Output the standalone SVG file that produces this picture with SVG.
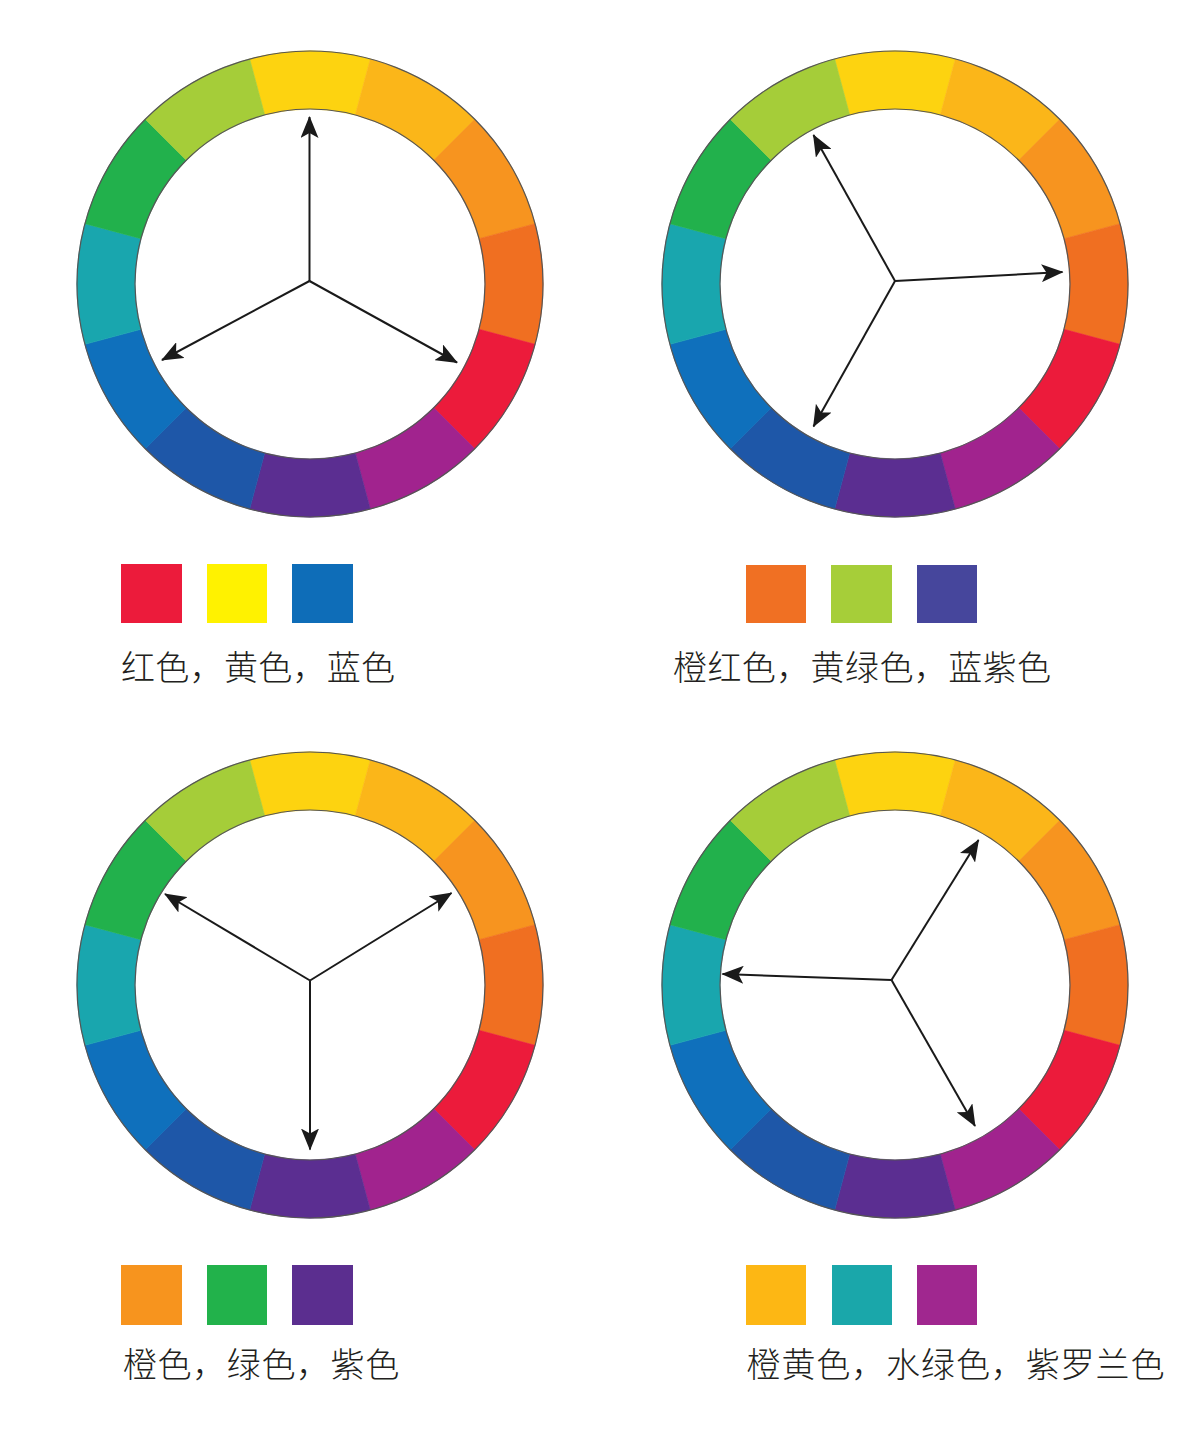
<svg xmlns="http://www.w3.org/2000/svg" xmlns:xlink="http://www.w3.org/1999/xlink" width="1200" height="1448" viewBox="0 0 1200 1448">
<style>
.c0{fill:#FDD310;stroke:#FDD310}
.c1{fill:#FBB619;stroke:#FBB619}
.c2{fill:#F7941F;stroke:#F7941F}
.c3{fill:#F06F21;stroke:#F06F21}
.c4{fill:#EC1B3B;stroke:#EC1B3B}
.c5{fill:#A1238E;stroke:#A1238E}
.c6{fill:#5B2E91;stroke:#5B2E91}
.c7{fill:#1E57A8;stroke:#1E57A8}
.c8{fill:#0F70BC;stroke:#0F70BC}
.c9{fill:#19A6AE;stroke:#19A6AE}
.c10{fill:#22B14C;stroke:#22B14C}
.c11{fill:#A5CD39;stroke:#A5CD39}
.seg{stroke-width:0.6}
.rim{fill:none;stroke:#555;stroke-width:1.2}
.arrow{stroke:#1a1a1a;stroke-width:2;fill:none;marker-end:url(#ah)}
.label{font-family:"Noto Sans CJK SC","Noto Sans CJK TC",sans-serif;font-size:34px;fill:#231f20;font-weight:300}
</style>
<defs>
<marker id="ah" viewBox="0 0 22 18" refX="21" refY="9" markerWidth="22" markerHeight="18" markerUnits="userSpaceOnUse" orient="auto">
<path d="M0,0 L22,9 L0,18 L5,9 Z" fill="#1a1a1a"/>
</marker>
<g id="wheel">
<path class="seg c0" d="M-60.30,-225.06 A233,233 0 0 1 60.30,-225.06 L45.29,-169.04 A175,175 0 0 0 -45.29,-169.04 Z"/>
<path class="seg c1" d="M60.30,-225.06 A233,233 0 0 1 164.76,-164.76 L123.74,-123.74 A175,175 0 0 0 45.29,-169.04 Z"/>
<path class="seg c2" d="M164.76,-164.76 A233,233 0 0 1 225.06,-60.30 L169.04,-45.29 A175,175 0 0 0 123.74,-123.74 Z"/>
<path class="seg c3" d="M225.06,-60.30 A233,233 0 0 1 225.06,60.30 L169.04,45.29 A175,175 0 0 0 169.04,-45.29 Z"/>
<path class="seg c4" d="M225.06,60.30 A233,233 0 0 1 164.76,164.76 L123.74,123.74 A175,175 0 0 0 169.04,45.29 Z"/>
<path class="seg c5" d="M164.76,164.76 A233,233 0 0 1 60.30,225.06 L45.29,169.04 A175,175 0 0 0 123.74,123.74 Z"/>
<path class="seg c6" d="M60.30,225.06 A233,233 0 0 1 -60.30,225.06 L-45.29,169.04 A175,175 0 0 0 45.29,169.04 Z"/>
<path class="seg c7" d="M-60.30,225.06 A233,233 0 0 1 -164.76,164.76 L-123.74,123.74 A175,175 0 0 0 -45.29,169.04 Z"/>
<path class="seg c8" d="M-164.76,164.76 A233,233 0 0 1 -225.06,60.30 L-169.04,45.29 A175,175 0 0 0 -123.74,123.74 Z"/>
<path class="seg c9" d="M-225.06,60.30 A233,233 0 0 1 -225.06,-60.30 L-169.04,-45.29 A175,175 0 0 0 -169.04,45.29 Z"/>
<path class="seg c10" d="M-225.06,-60.30 A233,233 0 0 1 -164.76,-164.76 L-123.74,-123.74 A175,175 0 0 0 -169.04,-45.29 Z"/>
<path class="seg c11" d="M-164.76,-164.76 A233,233 0 0 1 -60.30,-225.06 L-45.29,-169.04 A175,175 0 0 0 -123.74,-123.74 Z"/>
<circle class="rim" r="233"/>
<circle class="rim" r="175"/>
</g>
</defs>
<rect width="1200" height="1448" fill="#ffffff"/>

<g id="wheel1"><use xlink:href="#wheel" href="#wheel" transform="translate(310,284)"/></g>
<g id="wheel2"><use xlink:href="#wheel" href="#wheel" transform="translate(895,284)"/></g>
<g id="wheel3"><use xlink:href="#wheel" href="#wheel" transform="translate(310,985)"/></g>
<g id="wheel4"><use xlink:href="#wheel" href="#wheel" transform="translate(895,985)"/></g>

<g id="connectors">
<line class="arrow" x1="309.5" y1="281" x2="309.5" y2="117"/>
<line class="arrow" x1="309.5" y1="281" x2="162" y2="360"/>
<line class="arrow" x1="309.5" y1="281" x2="457" y2="362.5"/>

<line class="arrow" x1="895" y1="281" x2="813.5" y2="135"/>
<line class="arrow" x1="895" y1="281" x2="1062.5" y2="272"/>
<line class="arrow" x1="895" y1="281" x2="813.5" y2="426.5"/>

<line class="arrow" x1="310" y1="980.5" x2="165" y2="894"/>
<line class="arrow" x1="310" y1="980.5" x2="451.5" y2="893"/>
<line class="arrow" x1="310" y1="980.5" x2="310" y2="1149.5"/>

<line class="arrow" x1="891.5" y1="980" x2="978.5" y2="840"/>
<line class="arrow" x1="891.5" y1="980" x2="722.5" y2="974"/>
<line class="arrow" x1="891.5" y1="980" x2="975" y2="1126"/>
</g>

<g id="swatches1">
<rect x="121" y="564" width="61" height="59" fill="#EC1B3B"/>
<rect x="207" y="564" width="60" height="59" fill="#FFF200"/>
<rect x="292" y="564" width="61" height="59" fill="#0E6DB8"/>
<text class="label" x="121" y="680" letter-spacing="0.3">红色，黄色，蓝色</text>
</g>
<g id="swatches2">
<rect x="746" y="565" width="60" height="58" fill="#F07023"/>
<rect x="831" y="565" width="61" height="58" fill="#A6CE39"/>
<rect x="917" y="565" width="60" height="58" fill="#46469C"/>
<text class="label" x="673" y="680" letter-spacing="0.4">橙红色，黄绿色，蓝紫色</text>
</g>
<g id="swatches3">
<rect x="121" y="1265" width="61" height="60" fill="#F7941E"/>
<rect x="207" y="1265" width="60" height="60" fill="#22B24B"/>
<rect x="292" y="1265" width="61" height="60" fill="#5B2E8F"/>
<text class="label" x="123" y="1377" letter-spacing="0.6">橙色，绿色，紫色</text>
</g>
<g id="swatches4">
<rect x="746" y="1265" width="60" height="60" fill="#FDB714"/>
<rect x="832" y="1265" width="60" height="60" fill="#1AA7AA"/>
<rect x="917" y="1265" width="60" height="60" fill="#A0278F"/>
<text class="label" x="746.5" y="1377" letter-spacing="0.9">橙黄色，水绿色，紫罗兰色</text>
</g>
</svg>
